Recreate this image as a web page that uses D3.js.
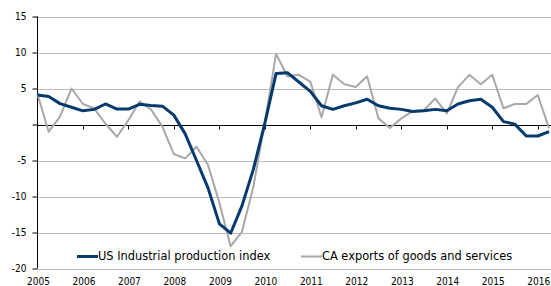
<!DOCTYPE html>
<html>
<head>
<meta charset="utf-8">
<script src="https://cdn.jsdelivr.net/npm/d3@7"></script>
<style>
  body { margin: 0; background: #fff; }
  svg { display: block; }
  text { font-family: "DejaVu Sans Condensed", "DejaVu Sans", sans-serif; font-size: 10px; fill: #000; }
  .legend text { font-family: "DejaVu Sans", sans-serif; font-size: 11.4px; }
</style>
</head>
<body>
<svg id="chart" width="551" height="286"></svg>
<script>
// quarterly, 2005Q1 .. 2016Q2
const quarters = d3.range(2005, 2017).flatMap(y => ["Q1", "Q2", "Q3", "Q4"].map(q => y + q)).slice(0, 46)

const usIndustrial = [
  4.1, 3.9, 2.9, 2.4, 1.9, 2.1, 2.85, 2.15, 2.15, 2.8, 2.65, 2.55,
  1.3, -1.3, -5.0, -8.8, -13.8, -15.1, -11.3, -6.2, 0.2, 7.1, 7.2, 5.9,
  4.6, 2.6, 2.1, 2.6, 3.0, 3.5, 2.6, 2.25, 2.1, 1.8, 1.9, 2.1,
  1.9, 2.85, 3.3, 3.5, 2.4, 0.4, 0.05, -1.6, -1.6, -1.0
]
const caExports = [
  4.2, -1.0, 1.1, 5.0, 2.85, 2.25, 0.1, -1.7, 0.6, 3.2, 2.1, -0.3,
  -4.1, -4.7, -3.1, -5.6, -10.9, -16.9, -14.9, -8.6, 0.3, 9.8, 6.7, 6.9,
  5.95, 1.0, 6.9, 5.6, 5.2, 6.7, 0.85, -0.5, 0.85, 1.85, 2.0, 3.6,
  1.55, 5.2, 6.9, 5.6, 6.9, 2.25, 2.85, 2.85, 4.1, -0.5
]
const seriesNames = ["US Industrial production index", "CA exports of goods and services"]
const seriesColors = ["#053a6e", "#a8a8a8"]
const yTicks = [-20, -15, -10, -5, 0, 5, 10, 15]
const years = d3.range(2005, 2017)

const svg = d3.select("#chart")
const mLeft = 37.5, mRight = 551, mTop = 16.5, mBottom = 268.5

const qDate = q => new Date(+q.slice(0, 4), (+q.slice(5) - 1) * 3, 1)

const x = d3.scaleTime()
  .domain([new Date(2005, 0, 1), new Date(2016, 0, 1)])
  .range([mLeft, 537.7])
const y = d3.scaleLinear().domain([-20, 15]).range([mBottom, mTop])

// grid
svg.append("g")
  .selectAll("line")
  .data(yTicks.filter(d => d !== 0))
  .join("line")
  .attr("x1", mLeft).attr("x2", mRight)
  .attr("y1", d => Math.round(y(d)) + 0.5).attr("y2", d => Math.round(y(d)) + 0.5)
  .attr("stroke", "#bdbdbd").attr("stroke-width", 1)

// y axis
const yAxis = svg.append("g")
  .attr("transform", `translate(${mLeft},0)`)
  .call(d3.axisLeft(y).tickValues(yTicks).tickSize(5).tickPadding(6).tickFormat(d => d === 0 ? "" : d))
yAxis.select(".domain").attr("d", `M0,${mTop}V${mBottom}`)
yAxis.selectAll("text").attr("font-size", null).attr("font-family", null)

// zero line
svg.append("line")
  .attr("x1", mLeft).attr("x2", mRight)
  .attr("y1", Math.round(y(0)) + 0.5).attr("y2", Math.round(y(0)) + 0.5)
  .attr("stroke", "#000")

// x ticks on zero line
svg.append("g")
  .selectAll("line")
  .data(years.slice(1))
  .join("line")
  .attr("x1", d => Math.round(x(new Date(d, 0, 1))) + 0.5)
  .attr("x2", d => Math.round(x(new Date(d, 0, 1))) + 0.5)
  .attr("y1", Math.round(y(0)) + 0.5).attr("y2", Math.round(y(0)) + 4.5)
  .attr("stroke", "#000")

// year labels
svg.append("g")
  .selectAll("text")
  .data(years)
  .join("text")
  .attr("x", d => x(new Date(d, 0, 1)) + 1)
  .attr("y", 285)
  .attr("text-anchor", "middle")
  .text(d => d)

// lines
const line = d3.line()
  .x((d, i) => x(qDate(quarters[i])))
  .y(d => y(d))

svg.append("path")
  .datum(caExports)
  .attr("d", line)
  .attr("fill", "none")
  .attr("stroke", seriesColors[1])
  .attr("stroke-width", 2)
  .attr("stroke-linejoin", "round")

svg.append("path")
  .datum(usIndustrial)
  .attr("d", line)
  .attr("fill", "none")
  .attr("stroke", seriesColors[0])
  .attr("stroke-width", 3)
  .attr("stroke-linejoin", "round")

// legend
const legendX = [77, 301]
const legend = svg.append("g")
  .attr("class", "legend")
  .selectAll("g")
  .data(seriesNames)
  .join("g")
  .attr("transform", (d, i) => `translate(${legendX[i]},256.5)`)
legend.append("line")
  .attr("x1", 0).attr("x2", 21)
  .attr("stroke", (d, i) => seriesColors[i])
  .attr("stroke-width", (d, i) => i === 0 ? 3 : 2)
legend.append("text")
  .attr("x", 21).attr("y", 3.5)
  .text(d => d)
</script>
</body>
</html>
